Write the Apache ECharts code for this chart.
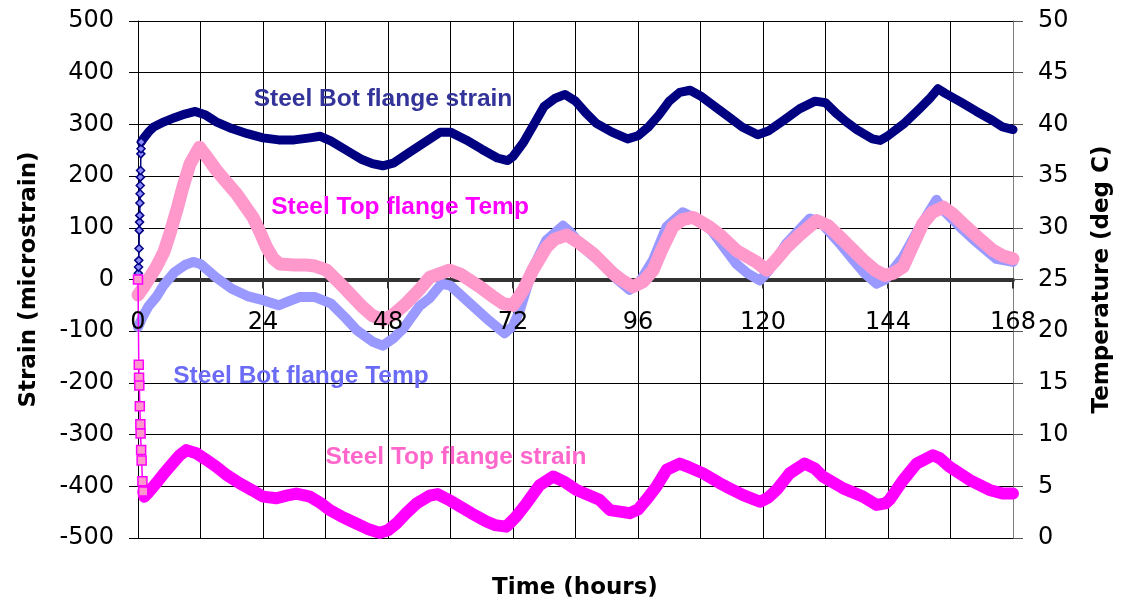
<!DOCTYPE html>
<html>
<head>
<meta charset="utf-8">
<script src="https://cdn.jsdelivr.net/npm/echarts@6/dist/echarts.min.js"></script>
<style>html,body{margin:0;padding:0;background:#fff}#c{width:1122px;height:606px}</style>
</head>
<body>
<div id="c"></div>
<script>
// ---- data: [time (hours), value] ----
const xTicks = [0, 24, 48, 72, 96, 120, 144, 168];

const botStrainRamp = [[0,0],[0.05,12],[0.1,24],[0.15,37],[0.2,60],[0.25,95],[0.3,111],[0.33,124],[0.37,148],[0.4,166],[0.43,182],[0.46,198],[0.5,211],[0.55,243],[0.58,253],[0.62,266]];
const botStrain = [[0.62,266],[1,272],[2,285],[3,295],[5,305],[7,313],[9,320],[11,325],[13,318],[15,305],[18,292],[21,282],[24,274],[27,270],[30,270],[33,274],[35,277],[37,268],[40,250],[43,232],[45,224],[47,220],[49,225],[52,245],[55,265],[58,285],[60,285],[63,270],[66,252],[69,235],[71,230],[72,238],[74,265],[76,300],[78,335],[80,350],[82,358],[84,345],[86,322],[88,302],[91,285],[94,272],[96,278],[98,295],[100,318],[102,345],[104,362],[106,366],[108,355],[110,340],[112,325],[114,310],[116,295],[119,280],[121,287],[124,308],[127,330],[130,345],[132,342],[134,322],[136,305],[138,290],[141,272],[142.5,269],[144,278],[147,301],[150,330],[152,350],[153.6,369],[155,360],[158,343],[161,325],[164,308],[166,295],[168,290]];

const topStrainRamp = [[0,0],[0.15,-165],[0.2,-190],[0.25,-205],[0.35,-245],[0.45,-280],[0.5,-298],[0.6,-330],[0.7,-350],[0.85,-390],[1.0,-410]];
const topStrain = [[1.0,-410],[1.2,-420],[2,-412],[3.5,-394],[5,-375],[6.1,-362],[8,-340],[9.3,-330],[11.2,-336],[13,-348],[15,-362],[17,-378],[19.5,-394],[22,-408],[24,-420],[26.6,-423],[28.5,-418],[30.4,-414],[33,-420],[35,-432],[36.8,-446],[39,-458],[41.9,-472],[44,-482],[46.4,-490],[48,-485],[49.6,-472],[51.5,-452],[53.5,-433],[56,-418],[57.5,-415],[60,-428],[61.8,-439],[64,-452],[66.9,-468],[68.5,-475],[70.7,-478],[72.5,-460],[74.6,-433],[77.1,-398],[79.7,-381],[82,-392],[84.2,-407],[88.6,-426],[90.6,-446],[94.4,-452],[96,-445],[97.6,-426],[99.5,-401],[101.5,-368],[104,-356],[106,-364],[108.5,-375],[111.7,-394],[113,-401],[116.2,-417],[119.4,-430],[121,-422],[122.6,-407],[125.1,-375],[128,-356],[130,-366],[131.5,-381],[135.4,-404],[139.2,-420],[141.8,-436],[143.5,-433],[144.3,-426],[146.9,-388],[149.5,-356],[152.6,-340],[154,-346],[155.8,-362],[159.7,-388],[163.5,-407],[166,-414],[168,-414]];

const botTemp = [[0,20.4],[1,21.5],[2,22.4],[3.5,23.3],[5,24.5],[7,25.7],[9,26.4],[10.6,26.7],[12,26.5],[15,25.2],[18,24.1],[21,23.4],[24,23.0],[27,22.5],[29,22.9],[31,23.3],[34,23.3],[37,22.7],[40,21.2],[42,20.1],[45,19.0],[47,18.6],[49,19.3],[51,20.3],[54,22.4],[56,23.2],[58.3,24.6],[60,24.4],[63.7,22.7],[67,21.2],[70.4,19.8],[72,20.5],[73.3,22.0],[75.9,26.2],[78.4,28.8],[81.6,30.2],[83,29.6],[85.4,28.1],[89.9,26.2],[92,25.0],[94.4,24.0],[96,24.5],[98.9,26.9],[101.5,30.1],[104.6,31.5],[107,30.9],[110,29.8],[114.9,26.5],[117,25.6],[119.4,24.9],[121,25.8],[124.5,28.5],[129,30.9],[131,30.6],[134.7,28.5],[137.3,26.9],[139.5,25.6],[141.8,24.6],[143.5,25.0],[146.9,27.2],[150,30.0],[153.3,32.7],[155,31.5],[158.4,29.8],[161,28.6],[164.8,27.0],[168,26.7]];

const topTemp = [[0,23.5],[1,24.2],[2,25.0],[3.5,26.2],[5,27.7],[6.1,29.4],[7.5,31.8],[8.6,33.9],[10,36.2],[11.8,37.8],[13,37.0],[15,35.6],[17,34.4],[18.9,33.3],[22.1,31.0],[23.5,29.5],[24.7,28.1],[26,27.0],[27.2,26.5],[30,26.4],[32.3,26.4],[34,26.3],[36.2,25.9],[39.4,24.3],[43.2,22.3],[45,21.5],[47.1,21.1],[49,21.6],[51.5,22.7],[54,24.0],[56,25.2],[59.8,25.9],[62,25.5],[65.6,24.3],[68,23.4],[70,22.7],[72,22.5],[74,24.0],[75.8,25.9],[78.4,28.1],[80,28.9],[82.3,29.3],[84.5,28.6],[87.4,27.5],[91.2,25.6],[93,24.9],[95,24.3],[97,24.8],[98.9,25.9],[100.5,27.8],[102.7,30.1],[104.5,30.8],[106.6,31.0],[109.7,30.1],[112,29.2],[114.9,27.8],[118.7,26.7],[120.7,25.9],[122.5,26.9],[124.5,28.1],[127,29.3],[130.3,30.7],[132.5,30.2],[135.4,28.8],[139.2,26.9],[141.5,25.9],[143.4,25.4],[145,25.6],[146.9,26.2],[148.5,28.0],[150.7,30.4],[152.5,31.5],[154.6,32.0],[156.5,31.3],[158.4,30.4],[161,29.2],[164.2,27.8],[166,27.3],[168,27.0]];

const labels = {
  botStrain: 'Steel Bot flange strain',
  topTemp: 'Steel Top flange Temp',
  botTemp: 'Steel Bot flange Temp',
  topStrain: 'Steel Top flange strain'
};

// ---- chart ----
const chart = echarts.init(document.getElementById('c'), null, {renderer: 'canvas'});
const numFont = 'DejaVu Sans';
const titleFont = 'bold 23px "DejaVu Sans"';
const annFont = 'bold 24.5px "Liberation Sans"';
const gridTop = 21, gridBottom = 68, chartH = 606;
// pixel distance from bottom of plot to the strain = 0 line (for the label axis)
const zeroOffset = (chartH - gridTop - gridBottom) / 2;

function txt(text, x, y, color, font, rot) {
  return {type: 'text', x: x, y: y, rotation: rot || 0, z: 100,
    style: {text: text, fill: color, font: font, align: 'center', verticalAlign: 'middle',
            textAlign: 'center', textVerticalAlign: 'middle'}};
}

chart.setOption({
  animation: false,
  backgroundColor: '#fff',
  grid: {left: 138, right: 109, top: gridTop, bottom: gridBottom, containLabel: false,
         outerBoundsMode: 'none'},
  xAxis: [{
    type: 'value', min: 0, max: 168, interval: 24,
    axisLine: {show: true, onZero: true, onZeroAxisIndex: 0, lineStyle: {color: '#333', width: 4}},
    axisTick: {show: true, length: 9, lineStyle: {color: '#333', width: 2}},
    axisLabel: {show: false},
    splitLine: {show: true, lineStyle: {color: '#000', width: 1}},
    minorTick: {show: false, splitNumber: 2},
    minorSplitLine: {show: true, lineStyle: {color: '#000', width: 1}}
  }, {
    type: 'value', min: 0, max: 168, interval: 24, position: 'bottom', offset: -zeroOffset, z: 10,
    axisLine: {show: false, onZero: false},
    axisTick: {show: false},
    axisLabel: {margin: 31, fontSize: 24, fontFamily: numFont, color: '#000',
      showMinLabel: true, showMaxLabel: true,
      formatter: v => xTicks.indexOf(v) >= 0 ? String(v) : ''},
    splitLine: {show: false}
  }],
  yAxis: [
    {type: 'value', min: -500, max: 500, interval: 100, position: 'left',
     name: 'Strain (microstrain)', nameLocation: 'middle', nameGap: 97, nameRotate: 90,
     nameTextStyle: {fontFamily: 'DejaVu Sans', fontWeight: 'bold', fontSize: 23, color: '#000'},
     axisLine: {show: true, onZero: false, lineStyle: {color: '#000', width: 1}},
     axisTick: {show: true, length: 9, lineStyle: {color: '#000'}},
     axisLabel: {margin: 24, fontSize: 24, fontFamily: numFont, color: '#000'},
     splitLine: {show: true, lineStyle: {color: '#000', width: 1}}},
    {type: 'value', min: 0, max: 50, interval: 5, position: 'right',
     name: 'Temperature (deg C)', nameLocation: 'middle', nameGap: 78, nameRotate: 90,
     nameTextStyle: {fontFamily: 'DejaVu Sans', fontWeight: 'bold', fontSize: 23, color: '#000'},
     axisLine: {show: true, onZero: false, lineStyle: {color: '#808080', width: 1}},
     axisTick: {show: true, length: 10, lineStyle: {color: '#555'}},
     axisLabel: {margin: 25, fontSize: 24, fontFamily: numFont, color: '#000'},
     splitLine: {show: false}}
  ],
  series: [
    {name: labels.botStrain, type: 'line', yAxisIndex: 0, data: botStrain, showSymbol: false,
     lineStyle: {color: '#000080', width: 9, cap: 'round', join: 'round'}, z: 3},
    {name: labels.botStrain + ' ramp', type: 'line', yAxisIndex: 0, data: botStrainRamp,
     symbol: 'diamond', symbolSize: 8, showSymbol: true,
     itemStyle: {color: '#8C8CFF', borderColor: '#000080', borderWidth: 1.5},
     lineStyle: {color: '#000080', width: 1.5}, z: 4},
    {name: labels.topStrain, type: 'line', yAxisIndex: 0, data: topStrain, showSymbol: false,
     lineStyle: {color: '#FF00FF', width: 12, cap: 'round', join: 'round'}, z: 3},
    {name: labels.topStrain + ' ramp', type: 'line', yAxisIndex: 0, data: topStrainRamp,
     symbol: 'rect', symbolSize: 9, showSymbol: true,
     itemStyle: {color: '#FF99CC', borderColor: '#FF00FF', borderWidth: 1.5},
     lineStyle: {color: '#FF00FF', width: 1.5}, z: 4},
    {name: labels.botTemp, type: 'line', yAxisIndex: 1, data: botTemp, showSymbol: false,
     lineStyle: {color: '#9999FF', width: 10, cap: 'round', join: 'round'}, z: 3},
    {name: labels.topTemp, type: 'line', yAxisIndex: 1, data: topTemp, showSymbol: false,
     lineStyle: {color: '#FF99CC', width: 13, cap: 'round', join: 'round'}, z: 3}
  ],
  graphic: [
    txt('Time (hours)', 575, 588, '#000', titleFont),
    txt(labels.botStrain, 383, 99, '#333399', annFont),
    txt(labels.topTemp, 400, 207, '#FF00FF', annFont),
    txt(labels.botTemp, 301, 376, '#6B6BF5', annFont),
    txt(labels.topStrain, 456, 457, '#FF66CC', annFont)
  ]
});
</script>
</body>
</html>
